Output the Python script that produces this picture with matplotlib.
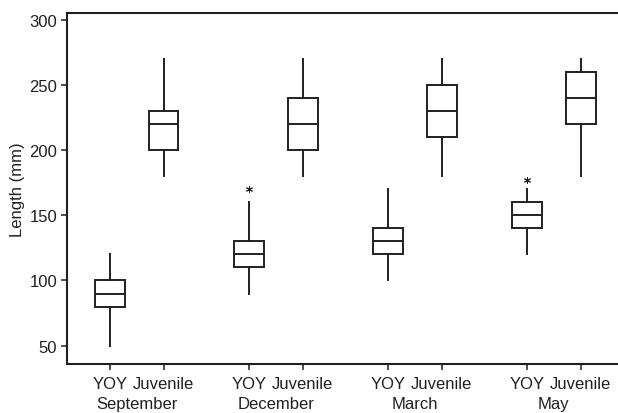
import matplotlib.pyplot as plt
import numpy as np

plt.rcParams['font.family'] = ['Liberation Sans', 'DejaVu Sans']

# Length summaries (mm) per group: whisker low, Q1, median, Q3, whisker high
months = ["September", "December", "March", "May"]
stages = ["YOY", "Juvenile"]
whislo = [50, 180, 90, 180, 100, 180, 120, 180]
q1 = [80, 200, 110, 200, 120, 210, 140, 220]
med = [90, 220, 120, 220, 130, 230, 150, 240]
q3 = [100, 230, 130, 240, 140, 250, 160, 260]
whishi = [120, 270, 160, 270, 170, 270, 170, 270]
outliers = [[], [], [170], [], [], [], [177], []]

ink = "#231f20"
fs = 12
group_gap = 2.6
positions = []
for g in range(len(months)):
    positions += [g * group_gap, g * group_gap + 1]

stats = []
for i in range(len(med)):
    stats.append(dict(whislo=whislo[i], q1=q1[i], med=med[i], q3=q3[i],
                      whishi=whishi[i], fliers=outliers[i]))

fig = plt.figure(figsize=(6.18, 4.14), dpi=100)
ax = fig.add_axes([0.108, 0.1184, 0.892, 0.8478])

lw = 1.4
ax.bxp(stats, positions=positions, widths=0.56, showcaps=False,
       patch_artist=True,
       boxprops=dict(facecolor="white", edgecolor=ink, linewidth=lw),
       medianprops=dict(color=ink, linewidth=lw),
       whiskerprops=dict(color=ink, linewidth=lw),
       flierprops=dict(marker=(6, 2, 0), markersize=5, markeredgecolor=ink,
                       markeredgewidth=0.7, linestyle="none"))

ax.set_ylim(36, 305)
ax.set_xlim(-0.81, 9.5)
ax.set_yticks([50, 100, 150, 200, 250, 300])
ax.set_xticks(positions)
ax.set_xticklabels(stages * len(months))
ax.tick_params(axis="both", labelsize=fs, colors=ink, width=1.1,
               length=4.3, pad=2.5)
ax.tick_params(axis="x", pad=4.5)
ax.set_ylabel("Length (mm)", fontsize=fs, color=ink, labelpad=3)

for side in ["left", "bottom", "top"]:
    ax.spines[side].set_linewidth(1.5)
    ax.spines[side].set_color(ink)
ax.spines["right"].set_visible(False)

# month names under each YOY/Juvenile pair
for g, m in enumerate(months):
    xc = g * group_gap + 0.5
    ax.annotate(m, xy=(xc, 0), xycoords=("data", "axes fraction"),
                xytext=(0, -32), textcoords="offset pixels",
                ha="center", va="top", fontsize=fs, color=ink)

fig.savefig("out.png", dpi=100)
